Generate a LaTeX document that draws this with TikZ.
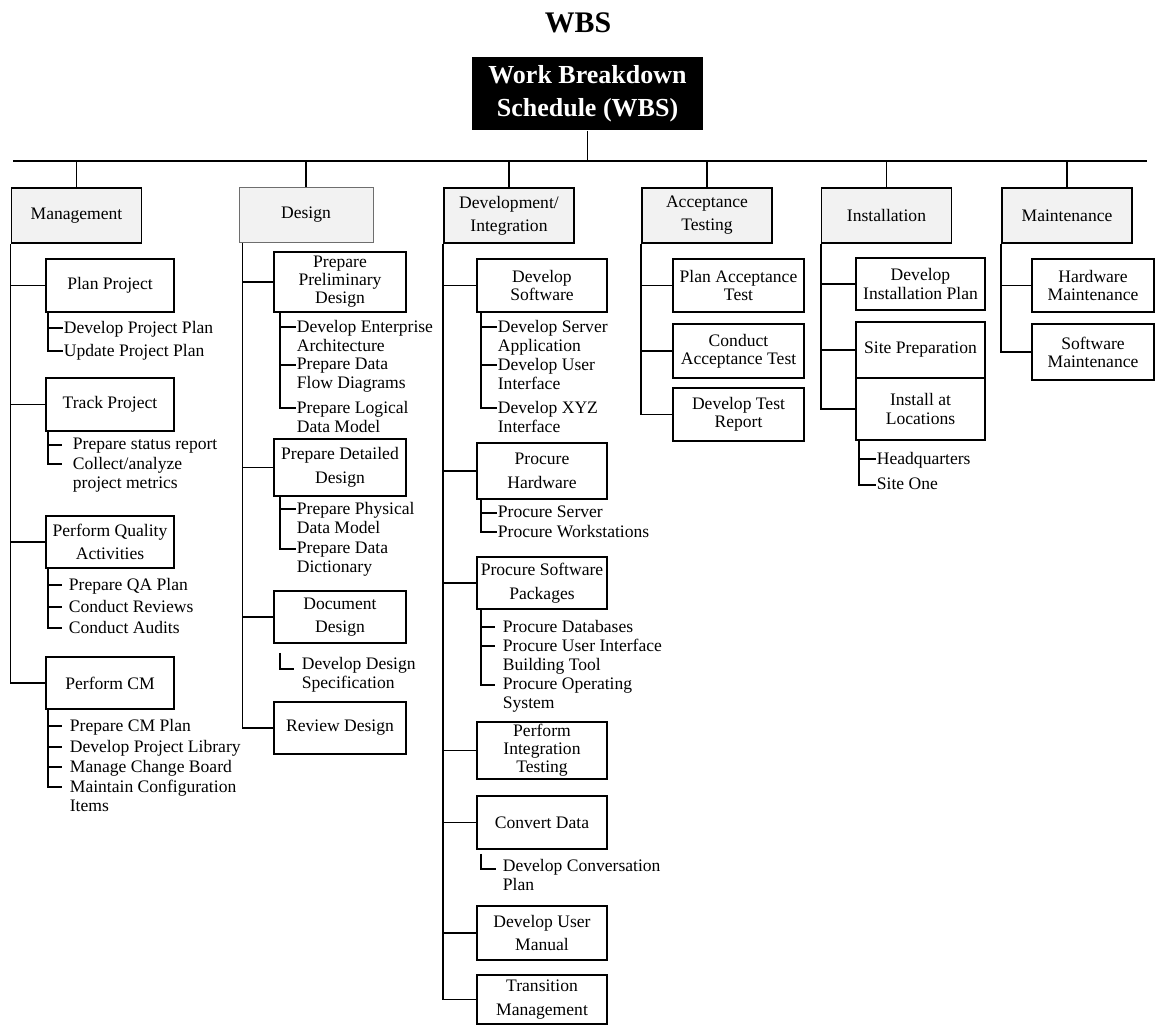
\documentclass[tikz,border=0pt]{standalone}
\usepackage{fontspec}
\setmainfont{Liberation Serif}
\usetikzlibrary{positioning}
\definecolor{catgray}{RGB}{242,242,242}
\definecolor{framegray}{RGB}{110,110,110}

\begin{document}
\begin{tikzpicture}[x=0.2mm, y=-0.2mm, line width=1pt,
    every node/.style={font=\fontsize{10}{10.3}\selectfont},
    topbox/.style={fill=black, text=white, minimum width=4.62cm, minimum height=1.46cm, align=center, font=\fontsize{14.8}{18.8}\selectfont\bfseries},
    catbox/.style={draw, fill=catgray, minimum width=2.6cm, minimum height=1.1cm, align=center, inner sep=1pt, font=\fontsize{10}{13}\selectfont},
    taskbox/.style={draw, fill=white, minimum width=#1, minimum height=1.06cm, align=center, inner sep=1pt},
    taskbox/.default=2.6cm,
    spaced/.style={font=\fontsize{10}{13.5}\selectfont},
    subitem/.style={anchor=north west, inner ysep=0pt, inner xsep=#1, align=left, font=\fontsize{10}{11}\selectfont},
    subitem/.default=0pt]
  \useasboundingbox (0,0) rectangle (1156,1026);
  \node[font=\fontsize{17}{20}\selectfont\bfseries, anchor=base] (title) at (578,32) {WBS};
  \node[topbox] (wbs) at (587.5,93.5) {Work Breakdown\\Schedule (WBS)};

  \node[catbox] (mgmt) at (76.5,215.5) {Management};
  \node[catbox, draw=framegray, line width=0.5pt, minimum width=2.68cm] (design) at (306,215) {Design};
  \node[catbox] (devint) at (509,215.5) {Development/\\Integration};
  \node[catbox] (acctest) at (707,215.5) {Acceptance\\Testing};
  \node[catbox] (install) at (886.5,215.5) {Installation};
  \node[catbox] (maint) at (1067,215.5) {Maintenance};

  \coordinate (busl) at (13,161);
  \coordinate (busr) at (1147,161);
  \draw (busl) -- (busr);
  \draw (wbs.south) -- (wbs.south |- busl);
  \foreach \c in {mgmt,design,devint,acctest,install,maint}
    \draw (\c.north |- busl) -- (\c.north);

  % Management
  \node[taskbox=2.56cm] (planproj) at (110,285.5) {Plan Project};
  \node[taskbox=2.56cm] (trackproj) at (110,404.5) {Track Project};
  \node[taskbox=2.56cm, spaced, minimum height=1.04cm] (qualact) at (110,542) {Perform Quality\\Activities};
  \node[taskbox=2.56cm, minimum height=1.04cm] (performcm) at (110,683) {Perform CM};
  \draw (mgmt.south west) |- (performcm.west);
  \foreach \t in {planproj,trackproj,qualact}
    \draw (mgmt.south west |- \t.west) -- (\t.west);

  \node[subitem] (planproj-1) at (63,320) {Develop Project Plan};
  \node[subitem] (planproj-2) at (63,343) {Update Project Plan};
  \node[subitem=2mm] (trackproj-1) at (62,437) {Prepare status report};
  \node[subitem=2mm] (trackproj-2) at (62,456) {Collect/analyze\\project metrics};
  \node[subitem=1.2mm] (qualact-1) at (62,577) {Prepare QA Plan};
  \node[subitem=1.2mm] (qualact-2) at (62,599) {Conduct Reviews};
  \node[subitem=1.2mm] (qualact-3) at (62,620) {Conduct Audits};
  \node[subitem=1.4mm] (performcm-1) at (62,718) {Prepare CM Plan};
  \node[subitem=1.4mm] (performcm-2) at (62,739) {Develop Project Library};
  \node[subitem=1.4mm] (performcm-3) at (62,759) {Manage Change Board};
  \node[subitem=1.4mm] (performcm-4) at (62,779) {Maintain Configuration\\Items};
  \foreach \i in {1,2}
    \draw (planproj.south west) ++(3,0) |- ([yshift=-4.4pt]planproj-\i.north west);
  \foreach \i in {1,2}
    \draw (trackproj.south west) ++(3,0) |- ([yshift=-4.4pt]trackproj-\i.north west);
  \foreach \i in {1,2,3}
    \draw (qualact.south west) ++(3,0) |- ([yshift=-4.4pt]qualact-\i.north west);
  \foreach \i in {1,...,4}
    \draw (performcm.south west) ++(3,0) |- ([yshift=-4.4pt]performcm-\i.north west);

  % Design
  \node[taskbox=2.64cm, minimum height=1.2cm] (prelim) at (340,282) {Prepare\\Preliminary\\Design};
  \node[taskbox=2.64cm, spaced, minimum height=1.14cm] (detailed) at (340,467.5) {Prepare Detailed\\Design};
  \node[taskbox=2.64cm, spaced, minimum height=1.04cm] (docdesign) at (340,617) {Document\\Design};
  \node[taskbox=2.64cm, minimum height=1.04cm] (revdesign) at (340,728) {Review Design};
  \coordinate (dspine) at ([xshift=0.8mm]design.south west);
  \draw (dspine) |- (revdesign.west);
  \foreach \t in {prelim,detailed,docdesign}
    \draw (dspine |- \t.west) -- (\t.west);

  \node[subitem] (prelim-1) at (296,319) {Develop Enterprise\\Architecture};
  \node[subitem] (prelim-2) at (296,357) {Prepare Data\\Flow Diagrams};
  \node[subitem] (prelim-3) at (296,400) {Prepare Logical\\Data Model};
  \node[subitem] (detailed-1) at (296,501) {Prepare Physical\\Data Model};
  \node[subitem] (detailed-2) at (296,541) {Prepare Data\\Dictionary};
  \node[subitem=1.4mm] (docdesign-1) at (294,656) {Develop Design\\Specification};
  \foreach \i in {1,2,3}
    \draw (prelim.south west) ++(7,0) |- ([yshift=-4.4pt]prelim-\i.north west);
  \foreach \i in {1,2}
    \draw (detailed.south west) ++(7,0) |- ([yshift=-4.4pt]detailed-\i.north west);
  \draw (docdesign.south west) ++(7,9) |- ([yshift=-7.4pt]docdesign-1.north west);

  % Development/Integration
  \node[taskbox] (devsw) at (542,285.5) {Develop\\Software};
  \node[taskbox, spaced, minimum height=1.12cm] (prochw) at (542,471) {Procure\\Hardware};
  \node[taskbox, spaced, minimum height=1.04cm] (procsw) at (542,583) {Procure Software\\Packages};
  \node[taskbox, minimum height=1.14cm] (inttest) at (542,750.5) {Perform\\Integration\\Testing};
  \node[taskbox] (convdata) at (542,822.5) {Convert Data};
  \node[taskbox, spaced, minimum height=1.08cm] (usermanual) at (542,933) {Develop User\\Manual};
  \node[taskbox, spaced, minimum height=0.98cm] (transmgmt) at (542,999.5) {Transition\\Management};
  \draw (devint.south west) |- (transmgmt.west);
  \foreach \t in {devsw,prochw,procsw,inttest,convdata,usermanual}
    \draw (devint.south west |- \t.west) -- (\t.west);

  \node[subitem] (devsw-1) at (497,319) {Develop Server\\Application};
  \node[subitem] (devsw-2) at (497,357) {Develop User\\Interface};
  \node[subitem] (devsw-3) at (497,400) {Develop XYZ\\Interface};
  \node[subitem] (prochw-1) at (497,505) {Procure Server};
  \node[subitem] (prochw-2) at (497,524) {Procure Workstations};
  \node[subitem=1.4mm] (procsw-1) at (495,619) {Procure Databases};
  \node[subitem=1.4mm] (procsw-2) at (495,638) {Procure User Interface\\Building Tool};
  \node[subitem=1.4mm] (procsw-3) at (495,677) {Procure Operating\\System};
  \node[subitem=1.2mm] (convdata-1) at (496,858) {Develop Conversation\\Plan};
  \foreach \i in {1,2,3}
    \draw (devsw.south west) ++(5,0) |- ([yshift=-4.4pt]devsw-\i.north west);
  \foreach \i in {1,2}
    \draw (prochw.south west) ++(5,0) |- ([yshift=-4.4pt]prochw-\i.north west);
  \foreach \i in {1,2,3}
    \draw (procsw.south west) ++(5,0) |- ([yshift=-4.4pt]procsw-\i.north west);
  \draw (convdata.south west) ++(5,4) |- ([yshift=-6.4pt]convdata-1.north west);

  % Acceptance Testing
  \node[taskbox=2.62cm] (planacc) at (738.5,285.5) {Plan Acceptance\\Test};
  \node[taskbox=2.62cm, minimum height=1.08cm] (condacc) at (738.5,351) {Conduct\\Acceptance Test};
  \node[taskbox=2.62cm] (testrep) at (738.5,414.5) {Develop Test\\Report};
  \draw (acctest.south west) |- (testrep.west);
  \foreach \t in {planacc,condacc}
    \draw (acctest.south west |- \t.west) -- (\t.west);

  % Installation
  \node[taskbox=2.58cm, minimum height=1.04cm] (instplan) at (920.5,284) {Develop\\Installation Plan};
  \node[taskbox=2.58cm, minimum height=1.12cm] (siteprep) at (920.5,350) {Site Preparation};
  \node[taskbox=2.58cm, minimum height=1.24cm] (instloc) at (920.5,409) {Install at\\Locations};
  \draw (install.south west) |- (instloc.west);
  \foreach \t in {instplan,siteprep}
    \draw (install.south west |- \t.west) -- (\t.west);

  \node[subitem] (instloc-1) at (876,451) {Headquarters};
  \node[subitem] (instloc-2) at (876,477) {Site One};
  \foreach \i in {1,2}
    \draw (instloc.south west) ++(4,0) |- ([yshift=-4.4pt]instloc-\i.north west);

  % Maintenance
  \node[taskbox=2.44cm] (hwmaint) at (1093,285.5) {Hardware\\Maintenance};
  \node[taskbox=2.44cm, minimum height=1.12cm] (swmaint) at (1093,352) {Software\\Maintenance};
  \draw (maint.south west) |- (swmaint.west);
  \draw (maint.south west |- hwmaint.west) -- (hwmaint.west);
\end{tikzpicture}
\end{document}
